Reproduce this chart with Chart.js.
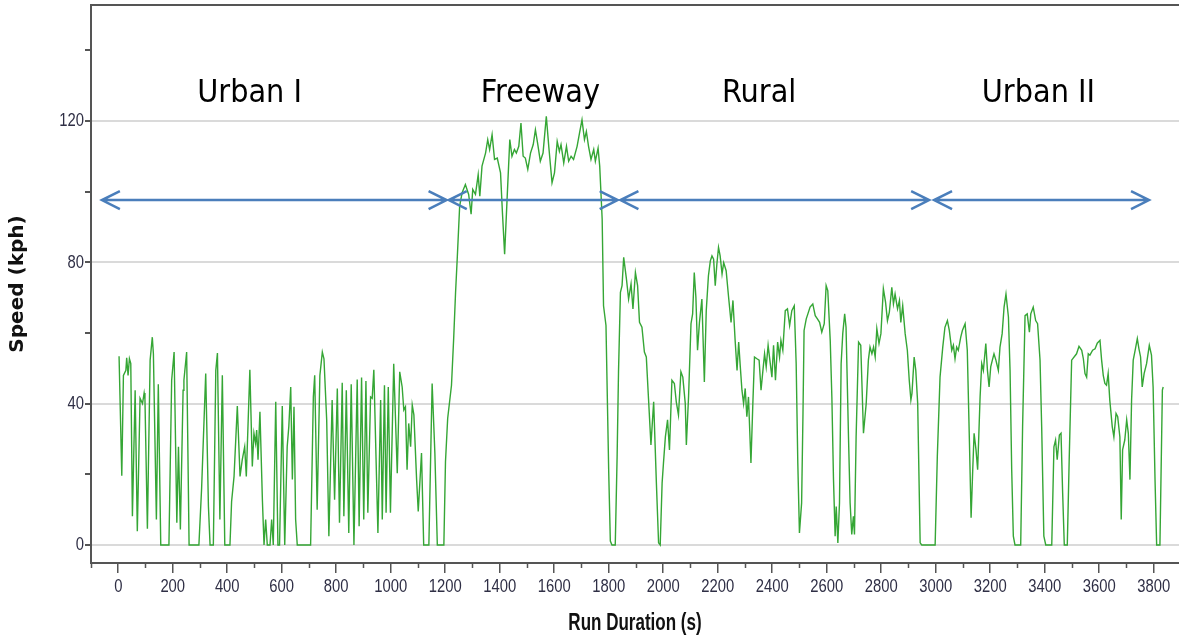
<!DOCTYPE html>
<html>
<head>
<meta charset="utf-8">
<script src="https://cdn.jsdelivr.net/npm/chart.js@4.4.1/dist/chart.umd.min.js"></script>
<style>
    html, body { margin: 0; padding: 0; background: #fff; }
    #wrap { width: 1179px; height: 638px; }
</style>
</head>
<body>
<div id="wrap"><canvas id="speedChart" width="1179" height="638"></canvas></div>
<script>
// Section names written above the trace
const sectionNames = ['Urban I', 'Freeway', 'Rural', 'Urban II'];

// Axis tick labels
const xTickLabels = [0, 200, 400, 600, 800, 1000, 1200, 1400, 1600, 1800, 2000,
    2200, 2400, 2600, 2800, 3000, 3200, 3400, 3600, 3800];
const yTickLabels = [0, 40, 80, 120];

// Speed trace (run time in s, speed in kph), split per section
const urbanITimes = [3, 13, 19, 28, 31, 36, 41, 46, 52, 62, 70, 80, 89, 95, 98, 107, 117, 125, 129, 140, 147, 156,
    186, 196, 205, 215, 221, 228, 238, 241, 251, 260, 296, 306, 321, 331, 337, 349, 358, 364, 373, 382, 391, 410,
    416, 425, 437, 447, 455, 464, 470, 483, 492, 498, 504, 508, 513, 520, 529, 535, 541, 547, 557, 563, 569, 578,
    586, 592, 602, 611, 620, 626, 633, 639, 645, 651, 657,
    706, 716, 721, 730, 740, 749, 755, 765, 773, 785, 794, 804, 812, 822, 828, 837, 846, 855, 865, 877, 884, 893,
    901, 909, 916, 926, 932, 938, 953, 963, 969, 977, 983, 991, 999, 1011, 1024, 1033, 1042, 1048, 1054, 1060,
    1066, 1073, 1079, 1085, 1095, 1101, 1113, 1121, 1140, 1152, 1162, 1171, 1195];
const urbanISpeeds = [53.4, 19.6, 48, 49.4, 53, 48, 52.7, 51.3, 8.1, 43.8, 3.9, 41.5, 40, 43, 41.2, 4.6, 52.3, 58.8, 54.1, 7.2, 45.5, 0,
    0, 46.6, 54.6, 6.3, 27.8, 4.4, 43.8, 46.6, 54.6, 0, 0, 16.1, 48.5, 10.9, 0, 0, 49.4, 54.3, 7.2, 48, 0, 0,
    12.3, 19.4, 39.3, 19.4, 24.1, 27.8, 19.4, 49.6, 22.2, 31.6, 28.8, 32.5, 24.1, 37.7, 12.8, 0, 7.2, 0, 0, 7.2, 0, 40.5,
    0, 0, 39.3, 0, 27.8, 33.5, 44.7, 18.5, 39.1, 7.2, 0,
    0, 41.9, 48, 10, 48, 54.6, 52.7, 35.4, 2.5, 41, 12.8, 44.3, 6.3, 45.9, 8.1, 43.8, 3.4, 45.5, 0, 46.8, 5.3, 47.4,
    7.2, 46.4, 9.1, 41.9, 41.5, 49.6, 3.4, 41, 7.2, 45.2, 9.1, 44.7, 9.1, 51.3, 20.3, 49, 44.7, 38.2, 39.1, 21.3,
    34.4, 27.8, 39.6, 36.8, 18.5, 9.5, 26, 0, 0, 45.7, 26, 0, 0];

const freewayTimes = [1201, 1209, 1223, 1231, 1238, 1244, 1253, 1262, 1274, 1286, 1295, 1301, 1311, 1321, 1327,
    1335, 1348, 1356, 1363, 1372, 1381, 1391, 1403, 1410, 1418, 1427, 1437, 1445, 1454, 1461, 1470, 1478, 1486,
    1494, 1503, 1513, 1523, 1531, 1539, 1549, 1559, 1571, 1580, 1592, 1601, 1611, 1619, 1625, 1635, 1645, 1653,
    1662, 1671, 1684, 1693, 1702, 1711, 1718, 1726, 1735, 1745, 1751, 1761, 1767, 1776, 1781, 1790, 1800, 1806,
    1812, 1824];
const freewaySpeeds = [23.6, 35.8, 45.2, 58.4, 71.5, 80.9, 95.9, 99.7, 102, 99.2, 93.6, 100.6, 99.2, 104.8, 98.7,
    107.2, 110.9, 114.7, 111.9, 116.1, 109.1, 109.5, 105.3, 94, 82.3, 97.8, 114.7, 110, 111.9, 110.9, 112.8, 119.4, 110,
    109.5, 106.3, 110.9, 113.3, 117.5, 113.7, 108.6, 110.9, 121.3, 112.8, 102.5, 105.3, 114.2, 111.4, 113.3, 108.1, 112.8, 108.6,
    110, 109.1, 112.8, 116.6, 120.3, 114.7, 117, 112.8, 109.1, 111.9, 108.6, 112.3, 107.2, 92.2, 67.7, 62.1, 20.8, 1.1,
    0, 0];

const ruralTimes = [1831, 1836, 1843, 1849, 1855, 1865, 1873, 1882, 1889, 1898, 1906, 1913, 1922, 1931, 1938, 1946,
    1955, 1965, 1975, 1983, 1989, 1996, 2001, 2008, 2016, 2023, 2032, 2041, 2048, 2056, 2065, 2072, 2081, 2085,
    2093, 2102, 2108, 2114, 2120, 2126, 2133, 2142, 2151, 2158, 2166, 2173, 2179, 2185, 2191, 2197, 2203, 2209,
    2216, 2222, 2231, 2240, 2249, 2256, 2264, 2271, 2277, 2283, 2289, 2295, 2301, 2307, 2313, 2322, 2329, 2335,
    2344, 2352, 2359, 2366, 2372, 2378, 2385, 2393, 2399, 2405, 2412, 2420, 2427, 2432, 2439, 2448, 2456, 2464,
    2472, 2481, 2488, 2494, 2500, 2508, 2513, 2517, 2525, 2531, 2539, 2549, 2558, 2566, 2574, 2582, 2591, 2598,
    2604, 2613, 2619, 2625, 2631, 2635, 2641, 2647, 2653, 2659, 2666, 2671, 2680, 2686, 2692, 2698, 2702, 2708,
    2717, 2725, 2735, 2745, 2753, 2759, 2766, 2772, 2778, 2784, 2792, 2799, 2808, 2816, 2823, 2830, 2839, 2845,
    2851, 2860, 2867, 2872, 2879, 2888, 2896, 2903, 2909, 2913, 2921, 2927, 2934, 2943, 2949, 2998];
const ruralSpeeds = [25.5, 49, 71.5, 73.4, 81.4, 75.3, 69.6, 73.9, 66.8, 77.1, 73.4, 63, 61.6, 54.6, 53.2, 41.5,
    28.3, 40.5, 17.5, 0.6, 0, 17.5, 23.2, 30.6, 35.4, 26.9, 46.6, 45.7, 40.5, 36.8, 49, 47.5, 40, 28.3,
    41.9, 62.6, 65.4, 77.1, 70.1, 55.1, 63, 69.6, 46.1, 66.3, 76.2, 80.4, 81.8, 80.9, 73.4, 79.5, 84.2, 81.8,
    76.7, 79.9, 77.6, 70.1, 63, 69.2, 57.9, 49.4, 57.4, 50.4, 43.8, 40, 44.3, 36.3, 41.9, 23.2, 40, 53.2,
    52.7, 52.3, 43.8, 49.4, 54.1, 50.4, 56.5, 51.3, 47.5, 56.5, 46.6, 57.4, 53.2, 57.9, 55.1, 66.3, 66.8, 62.1,
    66.3, 67.7, 51.3, 23.2, 3.4, 11.9, 37.2, 60.7, 64, 65.4, 67.3, 68.2, 64.9, 64, 63, 60.2, 62.6, 73.4,
    72, 57.9, 41.9, 18.5, 2.5, 10.9, 0.6, 11.9, 51.3, 59.8, 65.4, 61.6, 30.6, 11.9, 3, 8.1, 3, 30.6,
    57.4, 56.5, 31.6, 40, 52.3, 56, 54.1, 56, 53.2, 61.2, 57, 59.8, 72.5, 68.7, 63.5, 65.9, 72.9, 68.2,
    71, 66.8, 69.2, 63, 67.7, 59.8, 55.1, 46.6, 41, 42.9, 53.2, 49.4, 40, 0.6, 0, 0];

const urbanIITimes = [3006, 3016, 3026, 3034, 3043, 3050, 3059, 3065, 3071, 3077, 3083, 3092, 3098, 3108, 3116,
    3124, 3130, 3136, 3141, 3148, 3154, 3163, 3169, 3175, 3184, 3190, 3196, 3202, 3208, 3214, 3221, 3230, 3236,
    3244, 3251, 3258, 3267, 3273, 3279, 3285, 3291, 3312, 3319, 3328, 3336, 3344, 3349, 3358, 3367, 3374, 3383,
    3389, 3397, 3404, 3426, 3434, 3440, 3446, 3454, 3460, 3466, 3472, 3483, 3490, 3499, 3517, 3526, 3536, 3542,
    3548, 3554, 3560, 3566, 3576, 3585, 3593, 3603, 3609, 3615, 3621, 3627, 3633, 3639, 3648, 3654, 3662, 3668,
    3676, 3681, 3686, 3694, 3701, 3707, 3713, 3719, 3725, 3732, 3740, 3746, 3752, 3758, 3765, 3774, 3784, 3792,
    3798, 3805, 3811, 3823, 3832, 3835];
const urbanIISpeeds = [25, 47.5, 56, 61.6, 63.5, 60.7, 55.1, 56.5, 52.7, 56, 55.1, 58.8, 60.7, 62.6, 55.1,
    28.8, 7.7, 21.3, 31.6, 26.9, 21.3, 41.9, 51.3, 49.4, 57, 49.4, 44.7, 50.4, 52.3, 54.1, 52.3, 49.4, 56,
    59.8, 67.3, 71, 64.5, 49.4, 21.3, 2.5, 0, 0, 33.5, 64.9, 65.4, 60.2, 65.4, 67.3, 63.5, 62.6, 52.3,
    33.5, 2.5, 0, 0, 27.8, 29.7, 24.1, 31.1, 31.6, 14.7, 0, 0, 24.1, 52.3, 54.1, 56.2, 55.1, 52.7,
    48.5, 47.5, 54.1, 53.7, 55.1, 55.5, 57.1, 57.9, 52.3, 48, 45.7, 45.2, 48.5, 41, 33.5, 30.6, 37.2, 36.3,
    30.6, 7.2, 26.9, 29.7, 35.4, 31.6, 18.5, 41, 52.3, 55.1, 58.4, 55.5, 53.2, 44.7, 48.5, 51.3, 56.5, 53.7,
    44.7, 18.5, 0, 0, 43.8, 44.7];

// Join the sections into one trace
const runTimes = [...urbanITimes, ...freewayTimes, ...ruralTimes, ...urbanIITimes];
const runSpeeds = [...urbanISpeeds, ...freewaySpeeds, ...ruralSpeeds, ...urbanIISpeeds];
if (runTimes.length !== runSpeeds.length) {
    throw new Error('times/speeds length mismatch: ' + runTimes.length + ' vs ' + runSpeeds.length);
}
const tracePoints = runTimes.map((t, i) => ({ x: t, y: runSpeeds[i] }));

const plainFont = '"Liberation Sans", Arial, sans-serif';

// Draw text squeezed sideways (the original axis text is condensed)
function condensedText(ctx, text, x, y, squeeze) {
    ctx.save();
    ctx.translate(x, y);
    ctx.scale(squeeze, 1);
    ctx.fillText(text, 0, 0);
    ctx.restore();
}

// Double headed arrows and section names, placed through the scales
const sectionMarks = {
    id: 'sectionMarks',
    afterDatasetsDraw(chart, args, opts) {
        const { ctx, scales: { x, y } } = chart;
        const ay = y.getPixelForValue(opts.arrowLevel);
        ctx.save();
        ctx.strokeStyle = opts.arrowColor;
        ctx.lineWidth = 2.5;
        opts.spans.forEach(([a, b]) => {
            const x1 = x.getPixelForValue(a);
            const x2 = x.getPixelForValue(b);
            ctx.beginPath();
            ctx.moveTo(x1, ay);
            ctx.lineTo(x2, ay);
            ctx.moveTo(x1 + 18, ay - 9);
            ctx.lineTo(x1, ay);
            ctx.lineTo(x1 + 18, ay + 9);
            ctx.moveTo(x2 - 18, ay - 9);
            ctx.lineTo(x2, ay);
            ctx.lineTo(x2 - 18, ay + 9);
            ctx.stroke();
        });

        const ly = y.getPixelForValue(opts.labelLevel);
        ctx.fillStyle = '#000';
        ctx.font = '32px "DejaVu Sans", Verdana, sans-serif';
        ctx.textAlign = 'center';
        ctx.textBaseline = 'middle';
        sectionNames.forEach((name, i) => {
            condensedText(ctx, name, x.getPixelForValue(opts.labelAt[i]), ly, 0.9);
        });
        ctx.restore();
    }
};

// Top frame line, minor time ticks, condensed tick labels and time axis title
const axisExtras = {
    id: 'axisExtras',
    afterDraw(chart) {
        const { ctx, chartArea, scales: { x, y } } = chart;
        ctx.save();
        ctx.strokeStyle = '#555';
        ctx.lineWidth = 2;
        ctx.beginPath();
        ctx.moveTo(chartArea.left, chartArea.top);
        ctx.lineTo(chartArea.right, chartArea.top);
        ctx.stroke();

        ctx.lineWidth = 1.5;
        ctx.beginPath();
        for (let v = -100; v <= x.max; v += 200) {
            const px = Math.round(x.getPixelForValue(v)) + 0.5;
            ctx.moveTo(px, chartArea.bottom);
            ctx.lineTo(px, chartArea.bottom + 5);
        }
        ctx.stroke();

        ctx.fillStyle = '#2f2f45';
        ctx.font = '19px ' + plainFont;
        ctx.textBaseline = 'middle';
        ctx.textAlign = 'center';
        xTickLabels.forEach(v => {
            condensedText(ctx, String(v), x.getPixelForValue(v), chartArea.bottom + 24, 0.78);
        });
        ctx.textAlign = 'right';
        yTickLabels.forEach(v => {
            condensedText(ctx, String(v), chartArea.left - 7, y.getPixelForValue(v), 0.78);
        });

        ctx.fillStyle = '#111';
        ctx.font = 'bold 23px ' + plainFont;
        ctx.textAlign = 'center';
        condensedText(ctx, 'Run Duration (s)', (chartArea.left + chartArea.right) / 2, chart.height - 14, 0.74);
        ctx.restore();
    }
};

function createSpeedChart() {
    const ctx = document.getElementById('speedChart').getContext('2d');

    new Chart(ctx, {
        type: 'line',
        data: {
            datasets: [{
                label: 'Speed',
                data: tracePoints,
                borderColor: '#35a635',
                borderWidth: 1.4,
                pointRadius: 0,
                tension: 0,
                fill: false,
            }],
        },
        options: {
            responsive: false,
            devicePixelRatio: 1,
            animation: false,
            events: [],
            layout: { padding: { top: 5, right: 0, bottom: 0, left: 0 } },
            plugins: {
                legend: { display: false },
                tooltip: { enabled: false },
                sectionMarks: {
                    arrowColor: '#4a7ebb',
                    arrowLevel: 97.6,
                    spans: [[-60, 1205], [1213, 1833], [1843, 2976], [2994, 3783]],
                    labelLevel: 127.8,
                    labelAt: [482, 1549, 2352, 3377],
                },
            },
            scales: {
                x: {
                    type: 'linear',
                    min: -100,
                    max: 3893,
                    afterBuildTicks: scale => {
                        scale.ticks = xTickLabels.map(v => ({ value: v }));
                    },
                    afterFit: scale => {
                        scale.height = 75;
                        scale.paddingLeft = 0;
                        scale.paddingRight = 0;
                    },
                    ticks: { display: false, autoSkip: false },
                    grid: {
                        drawOnChartArea: false,
                        tickLength: 10,
                        tickColor: '#555',
                        lineWidth: 1.5,
                    },
                    border: { color: '#555', width: 2 },
                },
                y: {
                    type: 'linear',
                    min: -5.1,
                    max: 152.8,
                    afterBuildTicks: scale => {
                        scale.ticks = [0, 20, 40, 60, 80, 100, 120, 140].map(v => ({ value: v }));
                    },
                    afterFit: scale => {
                        scale.width = 91;
                        scale.paddingTop = 0;
                        scale.paddingBottom = 0;
                    },
                    ticks: { display: false },
                    grid: {
                        color: c => (c.tick && yTickLabels.includes(c.tick.value) ? '#dadada' : 'rgba(0,0,0,0)'),
                        tickColor: '#555',
                        tickLength: 6,
                        lineWidth: 2,
                    },
                    border: { color: '#555', width: 2 },
                    title: {
                        display: true,
                        text: 'Speed (kph)',
                        color: '#111',
                        font: { family: '"DejaVu Sans", Arial, sans-serif', size: 20, weight: 'bold' },
                        padding: { top: 6, bottom: 0 },
                    },
                },
            },
        },
        plugins: [sectionMarks, axisExtras],
    });
}

window.addEventListener('DOMContentLoaded', () => {
    createSpeedChart();
});
</script>
</body>
</html>
